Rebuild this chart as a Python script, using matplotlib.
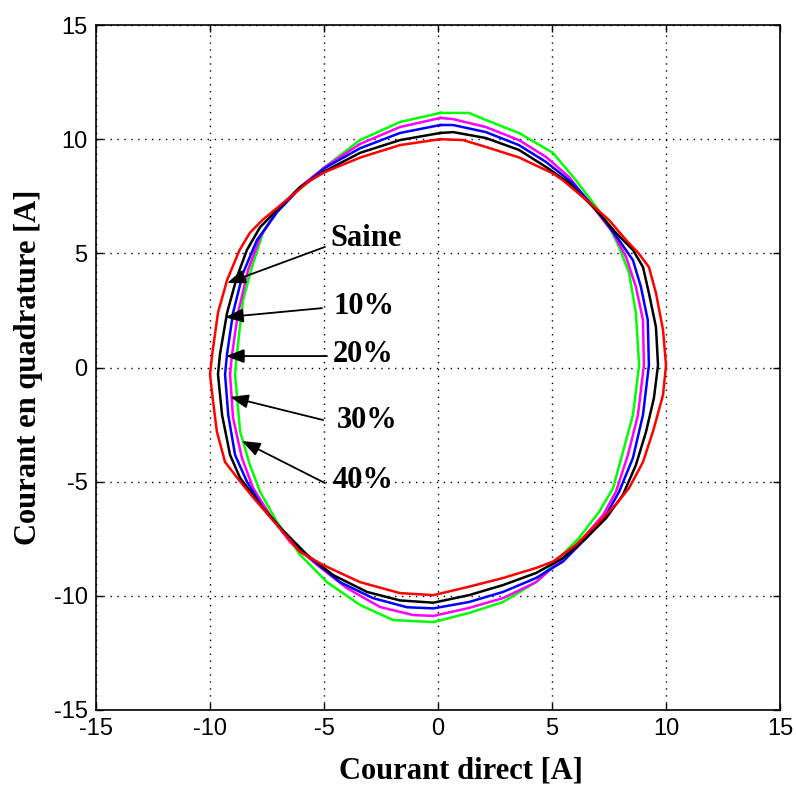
import matplotlib
matplotlib.use("Agg")
import matplotlib.pyplot as plt

plt.rcParams["axes.unicode_minus"] = False

# ---- data (Courant direct, Courant en quadrature) ----
red_x = [0.1, -1.67, -3.4, -4.96, -5.6, -6.8, -7.7, -8.25, -8.7, -9.25, -9.65, -9.9, -10.0, -9.9, -9.7, -9.34, -8.8, -8.1, -7.06, -6.05, -5.04, -3.42, -1.67, -0.2,
         1.36, 2.85, 4.3, 5.04, 6.05, 6.93, 7.8, 8.38, 8.99, 9.43, 9.87, 10.0, 9.87, 9.56, 9.25, 8.8, 8.25, 7.5, 6.5, 5.48, 5.04, 3.55, 2.1, 1.1, 0.1]
red_y = [10.0, 9.74, 9.2, 8.56, 8.2, 7.2, 6.46, 5.9, 5.15, 3.83, 2.4, 0.6, -0.3, -1.2, -2.8, -4.14, -4.84, -5.7, -6.9, -8.08, -8.65, -9.4, -9.88, -9.97,
         -9.6, -9.22, -8.78, -8.5, -7.77, -6.9, -6.0, -5.28, -4.14, -2.8, -1.2, 0.1, 1.64, 3.26, 4.4, 5.0, 5.58, 6.46, 7.34, 8.2, 8.5, 9.2, 9.66, 9.96, 10.0]

black_x = [0.1, -1.67, -3.42, -4.96, -6.05, -7.06, -7.8, -8.38, -8.82, -9.25, -9.56, -9.65, -9.47, -9.12, -8.68, -7.8, -6.93, -5.75, -4.6, -3.11, -1.67, -0.2,
           1.36, 2.85, 4.3, 5.48, 6.5, 7.37, 8.11, 8.68, 9.12, 9.47, 9.65, 9.56, 9.25, 8.99, 8.55, 7.8, 6.93, 5.75, 4.74, 3.55, 2.1, 0.66, 0.1]
black_y = [10.27, 9.96, 9.4, 8.6, 7.9, 6.9, 6.15, 5.15, 3.96, 2.4, 0.6, -0.3, -2.08, -3.83, -4.84, -6.0, -7.0, -8.2, -9.09, -9.83, -10.2, -10.3,
           -9.97, -9.53, -9.0, -8.35, -7.47, -6.6, -5.58, -4.27, -2.83, -1.34, 0.1, 1.77, 3.26, 4.4, 5.15, 5.9, 6.9, 8.08, 8.78, 9.53, 10.05, 10.31, 10.27]

blue_x = [0.1, -1.67, -3.42, -4.96, -6.05, -7.06, -7.94, -8.55, -8.99, -9.25, -9.34, -9.2, -8.9, -8.38, -7.68, -6.8, -5.6, -4.3, -2.85, -1.36, -0.2,
          1.36, 2.85, 4.3, 5.48, 6.5, 7.37, 7.94, 8.55, 8.99, 9.25, 9.2, 8.9, 8.55, 7.94, 7.06, 5.9, 4.74, 3.55, 2.1, 0.66, 0.1]
blue_y = [10.62, 10.27, 9.6, 8.74, 7.86, 6.8, 5.58, 4.14, 2.39, 0.6, -0.3, -2.08, -3.83, -5.0, -6.15, -7.2, -8.35, -9.4, -10.1, -10.5, -10.55,
          -10.27, -9.83, -9.22, -8.5, -7.47, -6.46, -5.45, -3.96, -2.08, 0.1, 2.08, 3.53, 4.7, 5.58, 6.77, 8.08, 9.0, 9.74, 10.31, 10.62, 10.62]

magenta_x = [0.1, -1.67, -3.42, -4.96, -6.05, -7.06, -7.8, -8.33, -8.77, -9.03, -9.12, -8.99, -8.6, -8.11, -7.37, -6.49, -5.3, -4.0, -2.54, -1.1, -0.2,
             1.36, 2.85, 4.3, 5.3, 6.36, 7.24, 7.8, 8.33, 8.77, 9.03, 8.99, 8.68, 8.25, 7.68, 6.8, 5.75, 4.74, 3.55, 2.1, 0.66, 0.1]
magenta_y = [10.93, 10.53, 9.79, 8.78, 7.9, 6.85, 5.72, 4.27, 2.39, 0.6, -0.3, -2.2, -3.96, -5.28, -6.46, -7.64, -8.65, -9.66, -10.49, -10.84, -10.88,
             -10.53, -10.1, -9.4, -8.52, -7.47, -6.46, -5.45, -3.83, -2.08, 0.1, 2.08, 3.53, 4.84, 5.9, 7.03, 8.34, 9.22, 9.96, 10.53, 10.88, 10.93]

green_x = [0.1, -1.67, -3.42, -4.96, -6.05, -7.06, -7.68, -8.16, -8.55, -8.82, -8.9, -8.68, -8.25, -7.8, -7.06, -6.05, -4.87, -3.42, -1.97, -0.2,
           1.36, 2.85, 4.3, 5.3, 6.18, 7.06, 7.68, 8.11, 8.55, 8.82, 8.68, 8.38, 7.94, 7.37, 6.05, 5.04, 3.55, 2.1, 1.36, 0.1]
green_y = [11.15, 10.75, 9.96, 8.78, 7.9, 6.9, 5.9, 4.4, 2.96, 0.6, -0.3, -2.8, -4.27, -5.45, -6.77, -8.2, -9.4, -10.4, -11.06, -11.15,
           -10.75, -10.27, -9.4, -8.35, -7.47, -6.33, -5.28, -3.7, -2.08, 0.1, 2.39, 4.14, 5.28, 6.46, 8.2, 9.4, 10.27, 10.84, 11.15, 11.15]

labels = ["Saine", "10%", "20%", "30%", "40%"]
arrow_tips = [(-9.25, 3.7), (-9.34, 2.2), (-9.3, 0.5), (-9.12, -1.29), (-8.6, -3.22)]
arrow_tails = [(-4.96, 5.28), (-5.09, 2.6), (-4.87, 0.5), (-5.04, -2.3), (-4.96, -5.06)]
label_pos = [(-4.74, 5.67), (-4.6, 2.65), (-4.6, 0.55), (-4.43, -2.3), (-4.6, -4.93)]

ticks = [-15, -10, -5, 0, 5, 10, 15]

# ---- figure ----
fig = plt.figure(figsize=(7.96, 7.90), dpi=100)
ax = fig.add_axes([96/796, 1 - 710/790, (780 - 96)/796, (710 - 25)/790])

series = [(green_x, green_y, "#00ff00"), (magenta_x, magenta_y, "#ff00ff"),
          (blue_x, blue_y, "#0000ff"), (black_x, black_y, "#000000"),
          (red_x, red_y, "#ff0000")]
for xs, ys, c in series:
    ax.plot(xs, ys, color=c, lw=1.8, zorder=3)

ax.set_xlim(-15, 15)
ax.set_ylim(-15, 15)
ax.set_xticks(ticks)
ax.set_yticks(ticks)
ax.grid(True, color="black", linestyle=(0, (1, 4)), linewidth=1.0)
ax.tick_params(direction="in", length=5, width=1, top=True, right=True,
               labelsize=17, pad=6)
for lab in ax.get_xticklabels() + ax.get_yticklabels():
    lab.set_fontfamily("Liberation Sans")
for sp in ax.spines.values():
    sp.set_linewidth(1.2)

serif = "Liberation Serif"
ax.set_xlabel("Courant direct [A]", fontfamily=serif, fontweight="bold", fontsize=22)
ax.xaxis.set_label_coords(0.5335, -0.068)
ax.set_ylabel("Courant en quadrature [A]", fontfamily=serif, fontweight="bold", fontsize=22)
ax.yaxis.set_label_coords(-0.077, 0.5)

for lab, tip, tail, pos in zip(labels, arrow_tips, arrow_tails, label_pos):
    ax.annotate("", xy=tip, xytext=tail,
                arrowprops=dict(arrowstyle="-|>,head_length=1.1,head_width=0.42",
                                color="black", lw=1.3, shrinkA=0, shrinkB=0),
                zorder=5)
    ax.text(pos[0], pos[1], lab, fontfamily=serif, fontweight="bold", fontsize=22,
            ha="left", va="center", zorder=6)

fig.savefig("out.png", dpi=100)
